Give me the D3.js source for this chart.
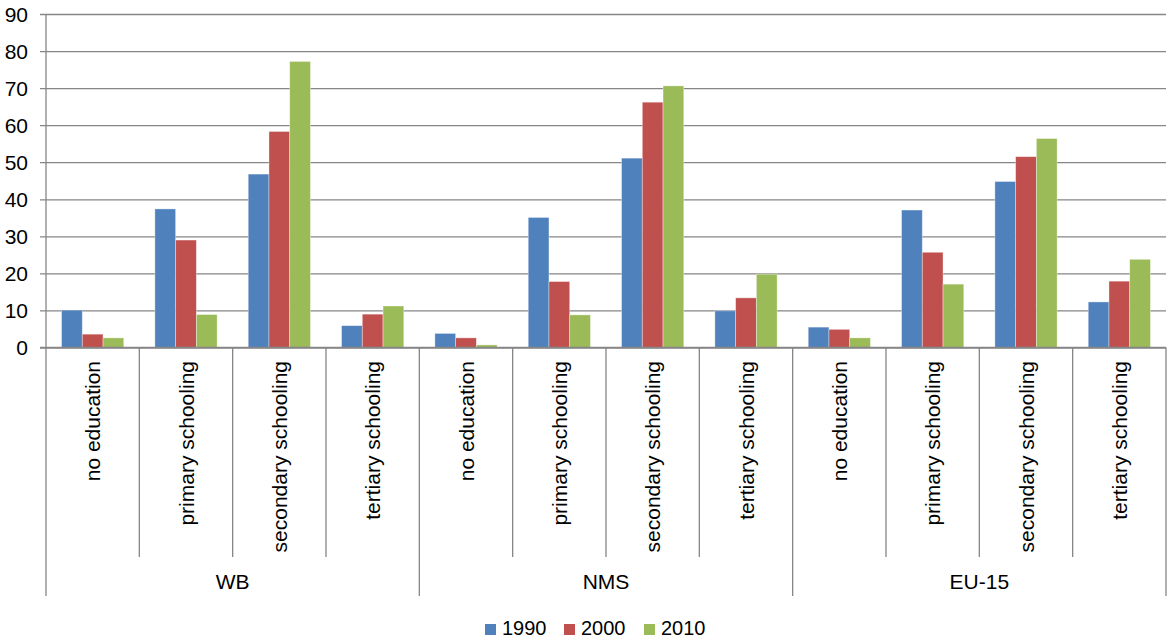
<!DOCTYPE html>
<html><head><meta charset="utf-8">
<script src="https://cdn.jsdelivr.net/npm/d3@7/dist/d3.min.js"></script>
<style>body{margin:0;background:#fff;}svg{display:block;font-family:"Liberation Sans",Arial,sans-serif;}</style>
</head><body>
<svg id="c" width="1169" height="641"></svg>
<script>
const groups = ["WB", "NMS", "EU-15"];
const categories = ["no education", "primary schooling", "secondary schooling", "tertiary schooling"];
const series = ["1990", "2000", "2010"];
const colors = ["#4F81BD", "#C0504D", "#9BBB59"];
const values1990 = [10.1, 37.4, 46.8, 5.9,   3.8, 35.1, 51.1, 9.9,   5.5, 37.1, 44.8, 12.3];
const values2000 = [3.6, 29.0, 58.3, 9.0,    2.6, 17.8, 66.2, 13.4,  4.9, 25.7, 51.5, 17.9];
const values2010 = [2.6, 8.9, 77.2, 11.2,    0.7, 8.8, 70.6, 19.8,   2.6, 17.1, 56.4, 23.8];
const yTicks = [0, 10, 20, 30, 40, 50, 60, 70, 80, 90];

const seriesValues = [values1990, values2000, values2010];
const keys = [];
groups.forEach(g => categories.forEach(c => keys.push(g + "|" + c)));

const svg = d3.select("#c");
const L = 46, R = 1166, T = 14, B = 347.5;
const x0 = d3.scaleBand().domain(keys).range([L, R]).paddingInner(0).paddingOuter(0);
const x1 = d3.scaleBand().domain(series).range([0, x0.bandwidth()]).paddingInner(0).paddingOuter(0.75);
const y = d3.scaleLinear().domain([0, 90]).range([B, T]);
const grid = "#868686";

// gridlines
const yAxis = d3.axisLeft(y).tickValues(yTicks).tickSize(-(R - L)).tickPadding(0).tickFormat(d3.format("d"));
const ga = svg.append("g").attr("transform", `translate(${L},0)`).call(yAxis);
ga.select(".domain").remove();
ga.selectAll(".tick line").attr("stroke", grid).attr("stroke-width", 1.3).attr("x1", -6);
ga.selectAll(".tick text").attr("x", -18).attr("font-size", 21).attr("fill", "#000").attr("font-family", "Liberation Sans, Arial, sans-serif").attr("dy", "0.35em");

// bars
series.forEach((s, si) => {
  svg.append("g").selectAll("rect").data(seriesValues[si]).join("rect")
    .attr("x", (d, i) => x0(keys[i]) + x1(s))
    .attr("width", x1.bandwidth())
    .attr("y", d => y(d))
    .attr("height", d => y(0) - y(d))
    .attr("fill", colors[si])
    .attr("stroke", "rgba(255,255,255,0.45)")
    .attr("stroke-width", 0.8);
});

// axes lines
svg.append("line").attr("x1", L).attr("x2", L).attr("y1", T).attr("y2", B).attr("stroke", grid).attr("stroke-width", 1.3);
svg.append("line").attr("x1", L - 6).attr("x2", R).attr("y1", B).attr("y2", B).attr("stroke", grid).attr("stroke-width", 1.3);

// category separators
const bounds = keys.map(k => x0(k)).concat([R]);
bounds.forEach((bx, i) => {
  const outer = (i % categories.length === 0);
  svg.append("line").attr("x1", bx).attr("x2", bx).attr("y1", B).attr("y2", outer ? 596 : 557)
    .attr("stroke", grid).attr("stroke-width", 1.3);
});

// category labels
keys.forEach((k, i) => {
  const cx = x0(k) + x0.bandwidth() / 2;
  svg.append("text").attr("transform", `translate(${cx + 7.5},361) rotate(-90)`)
    .attr("text-anchor", "end").attr("font-size", 21).attr("fill", "#000")
    .text(categories[i % categories.length]);
});

// group labels
groups.forEach((g, gi) => {
  const a = x0(g + "|" + categories[0]);
  const b = x0(g + "|" + categories[categories.length - 1]) + x0.bandwidth();
  svg.append("text").attr("x", (a + b) / 2).attr("y", 589).attr("text-anchor", "middle")
    .attr("font-size", 21).attr("fill", "#000").text(g);
});

// legend
const legX = [485, 564, 644];
series.forEach((s, si) => {
  svg.append("rect").attr("x", legX[si]).attr("y", 624).attr("width", 11).attr("height", 11).attr("fill", colors[si]);
  svg.append("text").attr("x", legX[si] + 17).attr("y", 635).attr("font-size", 20).attr("fill", "#000").text(s);
});
</script>
</body></html>
